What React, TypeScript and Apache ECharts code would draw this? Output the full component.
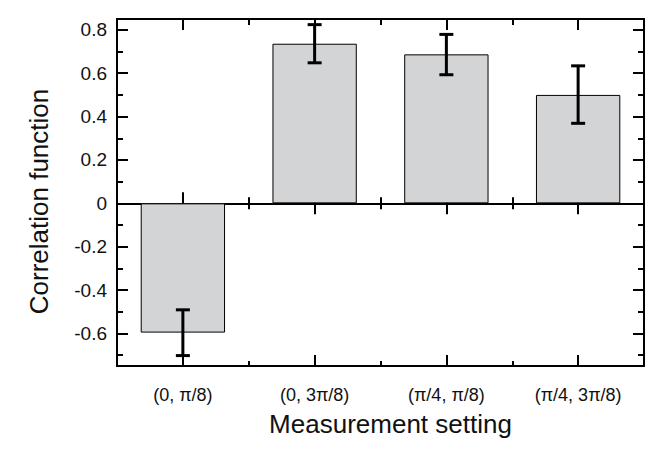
import React, { useEffect, useRef } from "react";
import * as echarts from "echarts";

const categories = ["(0, π/8)", "(0, 3π/8)", "(π/4, π/8)", "(π/4, 3π/8)"];
const correlation = [-0.596, 0.736, 0.687, 0.5];
const errorLow = [-0.702, 0.648, 0.593, 0.369];
const errorHigh = [-0.491, 0.824, 0.779, 0.634];

const FONT = "'Liberation Sans', Arial, Helvetica, sans-serif";
const BLACK = "#000";
const TEXT = "#111";

function xAxisCfg(position: string, centerTicks: boolean, len: number, inside: boolean, onZero: boolean, labels: boolean) {
  return {
    type: "category",
    data: categories,
    position,
    boundaryGap: true,
    axisLine: {
      show: true,
      onZero,
      ...(onZero ? { onZeroAxisIndex: 0 } : {}),
      lineStyle: { color: BLACK, width: 2 },
    },
    axisTick: {
      show: true,
      inside,
      length: len,
      alignWithLabel: centerTicks,
      lineStyle: { color: BLACK, width: 2 },
    },
    axisLabel: labels
      ? { show: true, margin: 20, fontSize: 18, color: TEXT, fontFamily: FONT }
      : { show: false },
    splitLine: { show: false },
    name: labels ? "Measurement setting" : "",
    nameLocation: "middle",
    nameGap: 45,
    nameTextStyle: { fontSize: 26, color: TEXT, fontFamily: FONT, padding: [0, 0, 0, 20] },
  };
}

function yAxisCfg(position: string, labels: boolean) {
  return {
    type: "value",
    position,
    min: -0.75,
    max: 0.85,
    splitNumber: 8,
    minInterval: 0.2,
    maxInterval: 0.2,
    axisLine: { show: true, onZero: false, lineStyle: { color: BLACK, width: 2 } },
    axisTick: { show: true, inside: true, length: 11, lineStyle: { color: BLACK, width: 2 } },
    minorTick: { show: true, splitNumber: 2, length: 6, lineStyle: { color: BLACK, width: 2 } },
    splitLine: { show: false },
    minorSplitLine: { show: false },
    axisLabel: labels
      ? {
          show: true,
          margin: 10,
          fontSize: 19,
          color: TEXT,
          fontFamily: FONT,
          padding: [6, 0, 0, 0],
          showMinLabel: false,
          showMaxLabel: false,
          formatter: (v: number) => (Math.abs(v) < 1e-9 ? "0" : v.toFixed(1)),
        }
      : { show: false },
    name: labels ? "Correlation function" : "",
    nameLocation: "middle",
    nameGap: 65,
    nameTextStyle: { fontSize: 26, color: TEXT, fontFamily: FONT, padding: [0, 18, 0, 0] },
  };
}

export default function App() {
  const ref = useRef<HTMLDivElement>(null);
  useEffect(() => {
    if (!ref.current) return;
    const chart = echarts.init(ref.current, null, { renderer: "svg" });
    chart.setOption({
      animation: false,
      backgroundColor: "#fff",
      grid: { left: 117, right: 19, top: 19, bottom: 92, containLabel: false },
      xAxis: [
        xAxisCfg("bottom", true, 11, true, false, true),
        xAxisCfg("bottom", false, 5, true, false, false),
        xAxisCfg("top", true, 11, true, false, false),
        xAxisCfg("top", false, 6, true, false, false),
        xAxisCfg("bottom", true, 11, true, true, false),
        xAxisCfg("bottom", true, 11, false, true, false),
        xAxisCfg("bottom", false, 6, true, true, false),
        xAxisCfg("bottom", false, 6, false, true, false),
      ],
      yAxis: [yAxisCfg("left", true), yAxisCfg("right", false)],
      series: [
        {
          type: "bar",
          xAxisIndex: 0,
          yAxisIndex: 0,
          data: correlation,
          barWidth: "64%",
          itemStyle: { color: "#d3d4d6", borderColor: BLACK, borderWidth: 1 },
          z: 2,
        },
        {
          type: "custom",
          xAxisIndex: 0,
          yAxisIndex: 0,
          data: categories.map((_, i) => [i, errorLow[i], errorHigh[i]]),
          encode: { x: 0, y: [1, 2] },
          z: 5,
          renderItem: (_params: any, api: any) => {
            const x = api.value(0);
            const lo = api.coord([x, api.value(1)]);
            const hi = api.coord([x, api.value(2)]);
            const hw = 7;
            const st = { stroke: BLACK, lineWidth: 3 };
            return {
              type: "group",
              children: [
                { type: "line", shape: { x1: lo[0], y1: lo[1], x2: hi[0], y2: hi[1] }, style: st },
                { type: "line", shape: { x1: lo[0] - hw, y1: lo[1], x2: lo[0] + hw, y2: lo[1] }, style: st },
                { type: "line", shape: { x1: hi[0] - hw, y1: hi[1], x2: hi[0] + hw, y2: hi[1] }, style: st },
              ],
            };
          },
        },
      ],
    });
    return () => chart.dispose();
  }, []);
  return (
    <div
      ref={ref}
      style={{ position: "fixed", left: 0, top: 0, width: 663, height: 458, background: "#fff" }}
    />
  );
}
